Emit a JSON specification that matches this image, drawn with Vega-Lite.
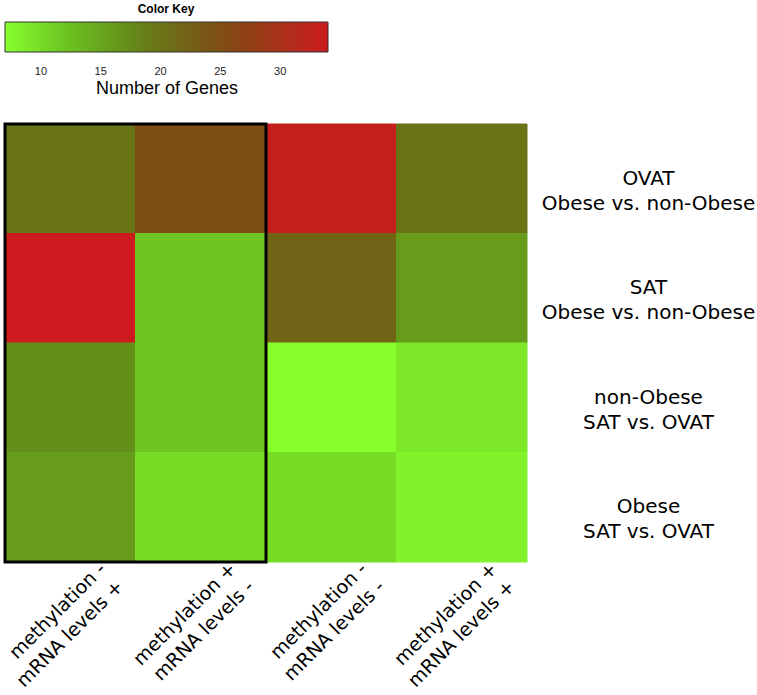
{
  "$schema": "https://vega.github.io/schema/vega-lite/v6.json",
  "width": 522,
  "height": 438,
  "autosize": {"type": "none"},
  "padding": {"left": 5, "top": 124, "right": 230, "bottom": 133},
  "background": "white",
  "config": {"view": {"stroke": null}},
  "title": {
    "text": "Color Key",
    "anchor": "start",
    "align": "center",
    "dx": 161,
    "frame": "group",
    "fontSize": 12,
    "fontWeight": "bold",
    "font": "Liberation Sans",
    "color": "black",
    "offset": 6
  },
  "datasets": {
    "cells": [
      {"row": "OVAT|Obese vs. non-Obese", "col": "methylation -|mRNA levels +", "n": 20},
      {"row": "OVAT|Obese vs. non-Obese", "col": "methylation +|mRNA levels -", "n": 25},
      {"row": "OVAT|Obese vs. non-Obese", "col": "methylation -|mRNA levels -", "n": 33},
      {"row": "OVAT|Obese vs. non-Obese", "col": "methylation +|mRNA levels +", "n": 20},
      {"row": "SAT|Obese vs. non-Obese", "col": "methylation -|mRNA levels +", "n": 34},
      {"row": "SAT|Obese vs. non-Obese", "col": "methylation +|mRNA levels -", "n": 12},
      {"row": "SAT|Obese vs. non-Obese", "col": "methylation -|mRNA levels -", "n": 22},
      {"row": "SAT|Obese vs. non-Obese", "col": "methylation +|mRNA levels +", "n": 16},
      {"row": "non-Obese|SAT vs. OVAT", "col": "methylation -|mRNA levels +", "n": 17},
      {"row": "non-Obese|SAT vs. OVAT", "col": "methylation +|mRNA levels -", "n": 12},
      {"row": "non-Obese|SAT vs. OVAT", "col": "methylation -|mRNA levels -", "n": 7},
      {"row": "non-Obese|SAT vs. OVAT", "col": "methylation +|mRNA levels +", "n": 9},
      {"row": "Obese|SAT vs. OVAT", "col": "methylation -|mRNA levels +", "n": 16},
      {"row": "Obese|SAT vs. OVAT", "col": "methylation +|mRNA levels -", "n": 10},
      {"row": "Obese|SAT vs. OVAT", "col": "methylation -|mRNA levels -", "n": 10},
      {"row": "Obese|SAT vs. OVAT", "col": "methylation +|mRNA levels +", "n": 8}
    ],
    "box": [{"c0": 0, "c1": 2, "r0": 0, "r1": 4}]
  },
  "layer": [
    {
      "data": {"name": "cells"},
      "mark": {"type": "rect", "strokeWidth": 1, "stroke": {"expr": "scale('color', datum.n)"}},
      "encoding": {
        "x": {
          "field": "col",
          "type": "nominal",
          "sort": null,
          "axis": {
            "orient": "bottom",
            "title": null,
            "domain": false,
            "ticks": false,
            "labelAngle": -45,
            "labelAlign": "right",
            "labelBaseline": "top",
            "labelOffset": 26,
            "labelPadding": -3,
            "labelFont": "DejaVu Sans",
            "labelFontSize": 19,
            "labelLineHeight": 25,
            "labelColor": "black",
            "labelLimit": 400,
            "labelOverlap": false,
            "labelExpr": "split(datum.value, '|')"
          }
        },
        "y": {
          "field": "row",
          "type": "nominal",
          "sort": null,
          "axis": {
            "orient": "right",
            "title": null,
            "domain": false,
            "ticks": false,
            "labelAlign": "center",
            "labelBaseline": "middle",
            "labelPadding": 121,
            "labelFont": "DejaVu Sans",
            "labelFontSize": 20,
            "labelLineHeight": 25,
            "labelColor": "black",
            "labelLimit": 400,
            "labelOverlap": false,
            "labelExpr": "split(datum.value, '|')"
          }
        },
        "color": {
          "field": "n",
          "type": "quantitative",
          "scale": {
            "domain": [7, 12, 17, 20, 25, 34],
            "range": ["#87ff2d", "#6dc521", "#64901a", "#6b7317", "#7d4e14", "#cc1a1e"],
            "interpolate": "rgb"
          },
          "legend": {
            "type": "gradient",
            "orient": "none",
            "legendX": 0,
            "legendY": -102,
            "direction": "horizontal",
            "gradientLength": 323,
            "gradientThickness": 30,
            "gradientStrokeColor": "#333333",
            "gradientStrokeWidth": 1,
            "values": [10, 15, 20, 25, 30],
            "title": "Number of Genes",
            "titleOrient": "bottom",
            "titleAnchor": "middle",
            "titleFont": "Liberation Sans",
            "titleFontSize": 18,
            "titleFontWeight": "normal",
            "titleColor": "black",
            "titlePadding": 3,
            "labelFont": "Liberation Sans",
            "labelFontSize": 11,
            "labelColor": "#222222",
            "labelOffset": 14,
            "padding": 0
          }
        }
      }
    },
    {
      "data": {"name": "box"},
      "mark": {"type": "rect", "fill": "transparent", "stroke": "black", "strokeWidth": 3},
      "encoding": {
        "x": {"field": "c0", "type": "quantitative", "scale": {"domain": [0, 4], "nice": false, "zero": false}, "axis": null},
        "x2": {"field": "c1"},
        "y": {"field": "r0", "type": "quantitative", "scale": {"domain": [0, 4], "nice": false, "zero": false}, "axis": null},
        "y2": {"field": "r1"}
      }
    }
  ],
  "resolve": {"scale": {"x": "independent", "y": "independent"}}
}
